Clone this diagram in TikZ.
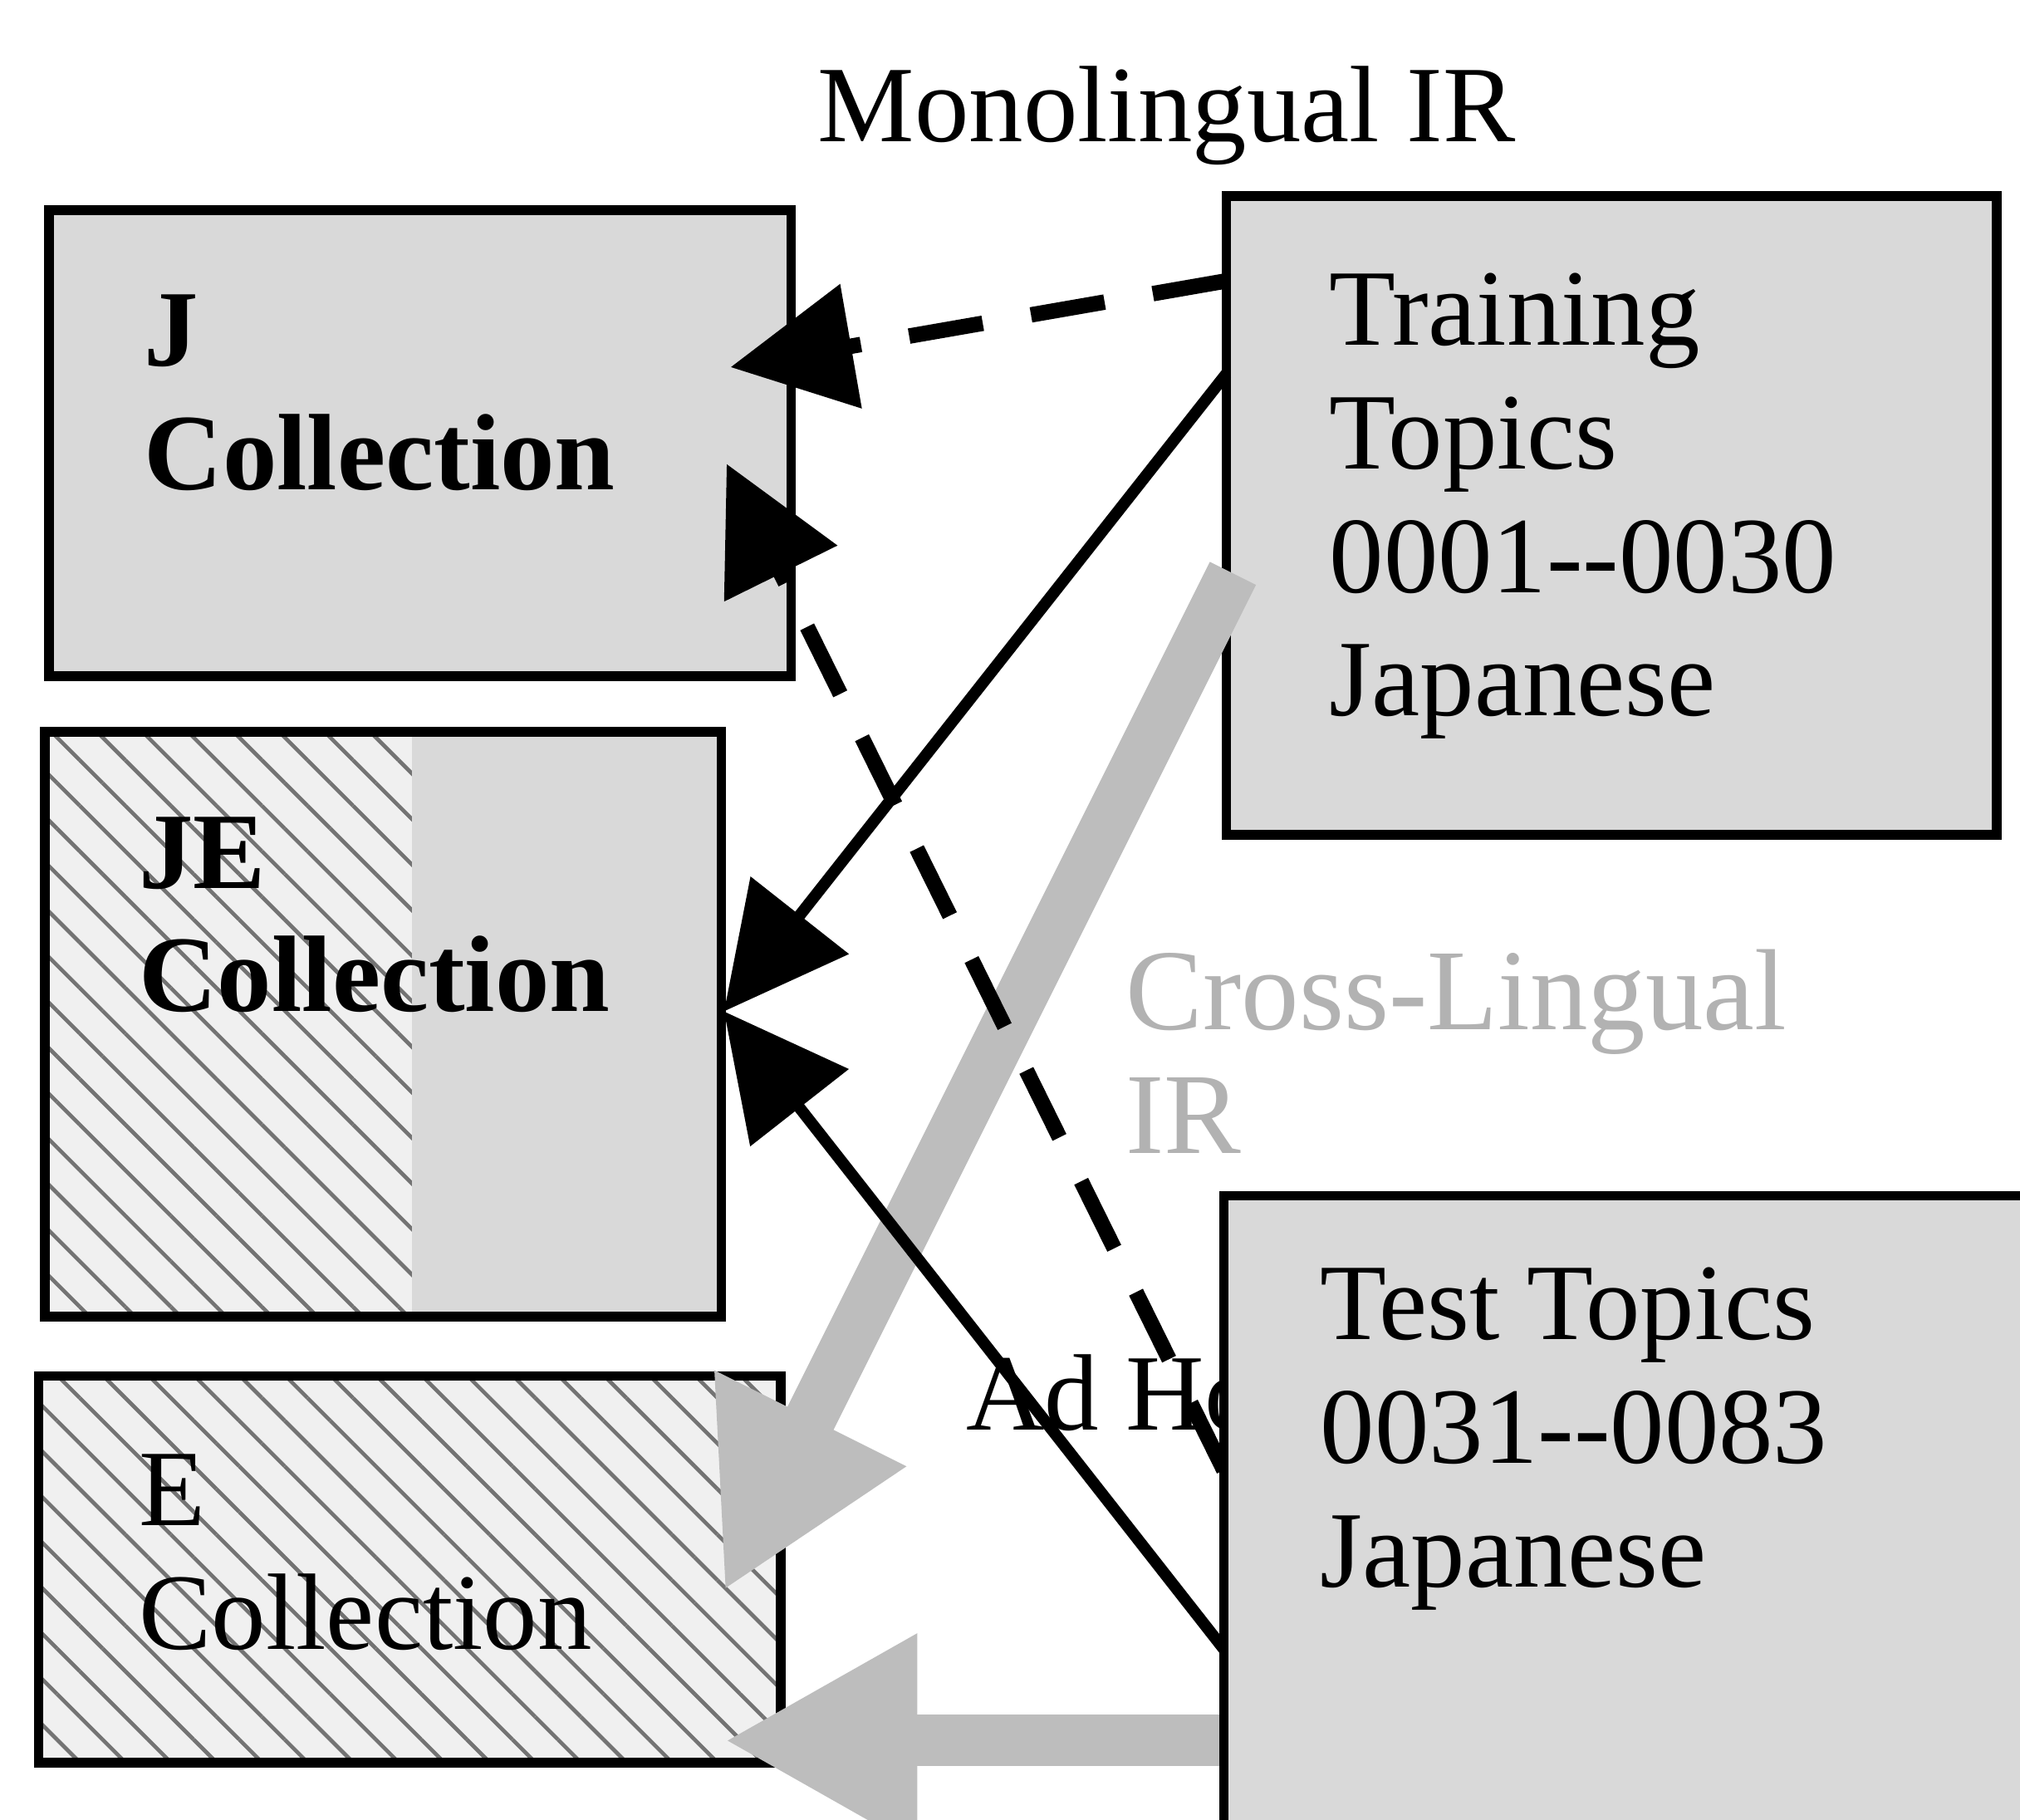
\documentclass[tikz,border=0pt]{standalone}
\usepackage{fontspec}
\setmainfont{Liberation Serif}
\usetikzlibrary{arrows.meta,patterns.meta}

\begin{document}
\begin{tikzpicture}[x=1cm,y=-1cm]
\tikzset{ >={Triangle[length=0.95cm,width=0.95cm]}, inner sep=0pt, outer sep=0pt,
  lbl/.style={font=\fontsize{24}{27.3}\selectfont},
  txt/.style={lbl, align=left, anchor=north west},
  txtb/.style={txt, font=\fontsize{24}{27.3}\selectfont\bfseries},
  box/.style={draw, line width=0.075cm, anchor=north west, fill=black!15},
  hatch/.style={draw, line width=0.075cm, anchor=north west, preaction={fill=black!6},
    pattern={Lines[angle=-45,distance=0.25cm,line width=0.03cm]}, pattern color=black!55},
  dsh/.style={->, line width=0.12cm, dash pattern=on 0.58cm off 0.38cm},
  sld/.style={->, line width=0.09cm},
  gry/.style={-{Triangle[length=1.5cm,width=1.55cm]}, line width=0.4cm, black!26},
}

\useasboundingbox (0,0) rectangle (15.68,14.12);
\clip (0,0) rectangle (15.68,14.12);

\coordinate (TSnw) at (9.50,9.28);

\node [box, minimum width=5.76cm, minimum height=3.62cm] (J) at (0.38,1.63) {};
\node [hatch, minimum width=5.25cm, minimum height=4.54cm,
  path picture={\fill[black!15] ([shift={(2.85,0)}]path picture bounding box.north west)
    rectangle (path picture bounding box.south east);}] (JE) at (0.35,5.68) {};
\node [hatch, minimum width=5.76cm, minimum height=3.00cm] (E) at (0.30,10.68) {};
\node [box, minimum width=5.98cm, minimum height=4.96cm] (TR) at (9.52,1.52) {};

\node [txtb] (Jt)  at (1.12,2.29)  {J\\Collection};
\node [txtb] (JEt) at (1.08,6.34)  {JE\\Collection};
\node [txt]  (Et)  at (1.08,11.29) {E\\Collection};
\node [txt]  (TRt) at (10.32,2.12) {Training\\Topics\\0001-\kern0pt-0030\\Japanese};

\node [lbl, anchor=base west] (MI) at (6.35,1.10) {Monolingual IR};

\draw [gry] ([shift={(0.05,2.93)}]TR.north west) -- ([shift={(-0.44,1.67)}]E.north east);
\draw [gry] ([shift={(0,4.23)}]TSnw) -- ([shift={(-0.44,2.83)}]E.north east);

\node [txt, font=\fontsize{25.5}{27.3}\selectfont, text=black!30] (CL) at (8.74,7.37) {Cross-Lingual\\IR};
\node [lbl, anchor=base west] (AH) at (7.50,11.10) {Ad Hoc};

\draw [dsh] ([shift={(0,0.66)}]TR.north west) -- ([shift={(-0.47,1.22)}]J.north east);
\draw [dsh] ([shift={(0,2.13)}]TSnw) -- ([shift={(-0.50,1.97)}]J.north east);
\draw [sld] ([shift={(0,1.38)}]TR.north west) -- ([shift={(0.02,2.17)}]JE.north east);
\draw [sld] ([shift={(0,3.52)}]TSnw) -- ([shift={(0.02,2.17)}]JE.north east);

\node [box, minimum width=7cm, minimum height=6cm] (TS) at (TSnw) {};
\node [txt] (TSt) at (10.25,9.84) {Test Topics\\0031-\kern0pt-0083\\Japanese};

\end{tikzpicture}
\end{document}
